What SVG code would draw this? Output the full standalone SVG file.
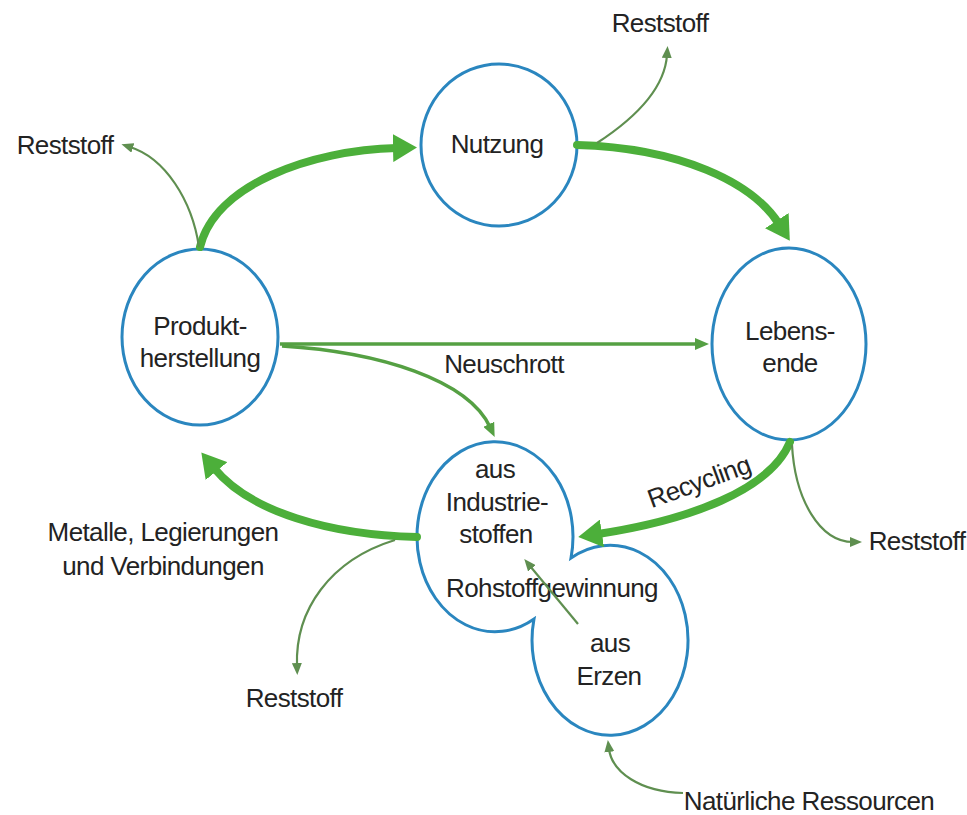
<svg xmlns="http://www.w3.org/2000/svg" width="967" height="815" viewBox="0 0 967 815">
  <style>
    .node { fill: #ffffff; stroke: #2a86bf; stroke-width: 3; }
    .lbl { font-family: "Liberation Sans", Arial, sans-serif; font-size: 26px; letter-spacing: -0.6px; fill: #232323; text-anchor: middle; }
    .thick { fill: none; stroke: #4caf3a; stroke-width: 8; stroke-linecap: round; }
    .mid { fill: none; stroke: #55a043; stroke-width: 3.5; }
    .thin { fill: none; stroke: #5f8f50; stroke-width: 2.2; }
  </style>
  <defs>
    <marker id="big" viewBox="0 0 24 28" markerWidth="24" markerHeight="28" markerUnits="userSpaceOnUse" refX="4" refY="14" orient="auto">
      <path d="M0,0 L24,14 L0,28 z" fill="#4caf3a"/>
    </marker>
    <marker id="small" viewBox="0 0 12 10" markerWidth="12" markerHeight="10" markerUnits="userSpaceOnUse" refX="3" refY="5" orient="auto">
      <path d="M0,0 L12,5 L0,10 z" fill="#5f8f50"/>
    </marker>
    <marker id="smallg" viewBox="0 0 14 12" markerWidth="14" markerHeight="12" markerUnits="userSpaceOnUse" refX="3" refY="6" orient="auto">
      <path d="M0,0 L14,6 L0,12 z" fill="#55a043"/>
    </marker>
  </defs>
  <rect width="967" height="815" fill="#ffffff"/>

  <g id="produktherstellung">
    <ellipse class="node" cx="200" cy="337" rx="78" ry="88"/>
    <text class="lbl" x="200" y="335">Produkt-</text>
    <text class="lbl" x="200" y="367">herstellung</text>
  </g>
  <g id="nutzung">
    <ellipse class="node" cx="499" cy="145" rx="78" ry="81"/>
    <text class="lbl" x="497" y="153">Nutzung</text>
  </g>
  <g id="lebensende">
    <ellipse class="node" cx="789" cy="344" rx="77" ry="96"/>
    <text class="lbl" x="790" y="340">Lebens-</text>
    <text class="lbl" x="790" y="372">ende</text>
  </g>
  <g id="rohstoffgewinnung">
    <path class="node" d="M571 558 A78 95 0 1 0 534 619 A78 95 0 1 0 571 558 Z"/>
    <text class="lbl" x="495" y="478">aus</text>
    <text class="lbl" x="497" y="511">Industrie-</text>
    <text class="lbl" x="496" y="543">stoffen</text>
    <text class="lbl" x="552" y="597">Rohstoffgewinnung</text>
    <text class="lbl" x="610" y="652">aus</text>
    <text class="lbl" x="609" y="685">Erzen</text>
  </g>

  <g id="connectors">
    <path class="thick" d="M200 247 C 215 185, 310 150, 397 148" marker-end="url(#big)"/>
    <path class="thick" d="M577 145 C 680 148, 752 182, 779 224" marker-end="url(#big)"/>
    <path class="thick" d="M790 442 C 770 490, 690 520, 598 534" marker-end="url(#big)"/>
    <path class="thick" d="M417 537 C 330 535, 250 512, 214 468" marker-end="url(#big)"/>
    <path class="mid" d="M280 344 L 698 344" marker-end="url(#smallg)"/>
    <path class="mid" d="M282 346 C 380 352, 468 380, 490 427" marker-end="url(#smallg)"/>
    <path class="thin" d="M199 247 C 192 200, 165 158, 130 147" marker-end="url(#small)"/>
    <path class="thin" d="M597 143 C 640 115, 665 85, 667 55" marker-end="url(#small)"/>
    <path class="thin" d="M792 445 C 795 500, 820 542, 853 542" marker-end="url(#small)"/>
    <path class="thin" d="M395 540 C 330 560, 295 610, 297 666" marker-end="url(#small)"/>
    <path class="thin" d="M683 793 C 640 792, 612 772, 609 749" marker-end="url(#small)"/>
    <path class="thin" d="M578 624 L 530 566" marker-end="url(#small)"/>
  </g>

  <g id="labels">
    <text class="lbl" x="660" y="32">Reststoff</text>
    <text class="lbl" x="65" y="154">Reststoff</text>
    <text class="lbl" x="504" y="373">Neuschrott</text>
    <text class="lbl" x="702" y="490" transform="rotate(-20 702 490)">Recycling</text>
    <text class="lbl" x="163" y="541">Metalle, Legierungen</text>
    <text class="lbl" x="163" y="575">und Verbindungen</text>
    <text class="lbl" x="294" y="707">Reststoff</text>
    <text class="lbl" x="917" y="550">Reststoff</text>
    <text class="lbl" x="809" y="810">Natürliche Ressourcen</text>
  </g>
</svg>
